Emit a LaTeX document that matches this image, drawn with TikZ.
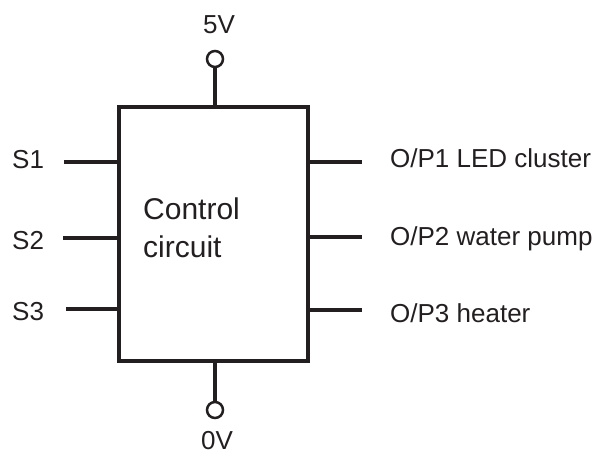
\documentclass[tikz,border=0pt]{standalone}
\usepackage{fontspec}
\setmainfont{Liberation Sans}
\definecolor{ink}{HTML}{231F20}
\begin{document}
\begin{tikzpicture}[x=1pt,y=-1pt,
  lbl/.style={inner sep=0pt,text=ink,font=\fontsize{26}{31}\selectfont},
  lead/.style={draw=ink,line width=4.5pt},
  stem/.style={draw=ink,line width=4pt},
  term/.style={circle,draw=ink,line width=2.5pt,minimum size=16pt,inner sep=0pt,fill=white},
  boxst/.style={draw=ink,line width=3.3pt,minimum width=189pt,minimum height=254pt,inner sep=0pt}]
\useasboundingbox (0,0) rectangle (598,453);
\node[boxst] (cc) at (213.5,234) {};
\node[lbl,anchor=base west,font=\fontsize{30}{38}\selectfont] (cct1) at (143,219) {Control};
\node[lbl,anchor=base west,font=\fontsize{30}{38}\selectfont] (cct2) at (143,257) {circuit};
% terminals
\node[term] (v5) at (215,59) {};
\node[term] (v0) at (215,410) {};
\draw[stem] (v5.south) -- (v5.south |- cc.north);
\draw[stem] (v0.north) -- (v0.north |- cc.south);
\node[lbl,anchor=base] (t5) at (219,33) {5V};
\node[lbl,anchor=base] (t0) at (217,449.5) {0V};
% inputs
\coordinate (i1) at (64,162);
\coordinate (i2) at (63,238);
\coordinate (i3) at (66,309);
\draw[lead] (i1) -- (i1 -| cc.west);
\draw[lead] (i2) -- (i2 -| cc.west);
\draw[lead] (i3) -- (i3 -| cc.west);
\node[lbl,anchor=base west] (s1) at (12,168) {S1};
\node[lbl,anchor=base west] (s2) at (12,249) {S2};
\node[lbl,anchor=base west] (s3) at (12,320) {S3};
% outputs
\coordinate (o1) at (362,162);
\coordinate (o2) at (362,237);
\coordinate (o3) at (362,310);
\draw[lead] (o1 -| cc.east) -- (o1);
\draw[lead] (o2 -| cc.east) -- (o2);
\draw[lead] (o3 -| cc.east) -- (o3);
\node[lbl,anchor=base west] (p1) at (390,167) {O/P1 LED cluster};
\node[lbl,anchor=base west] (p2) at (390,245) {O/P2 water pump};
\node[lbl,anchor=base west] (p3) at (390,322) {O/P3 heater};
\end{tikzpicture}
\end{document}
